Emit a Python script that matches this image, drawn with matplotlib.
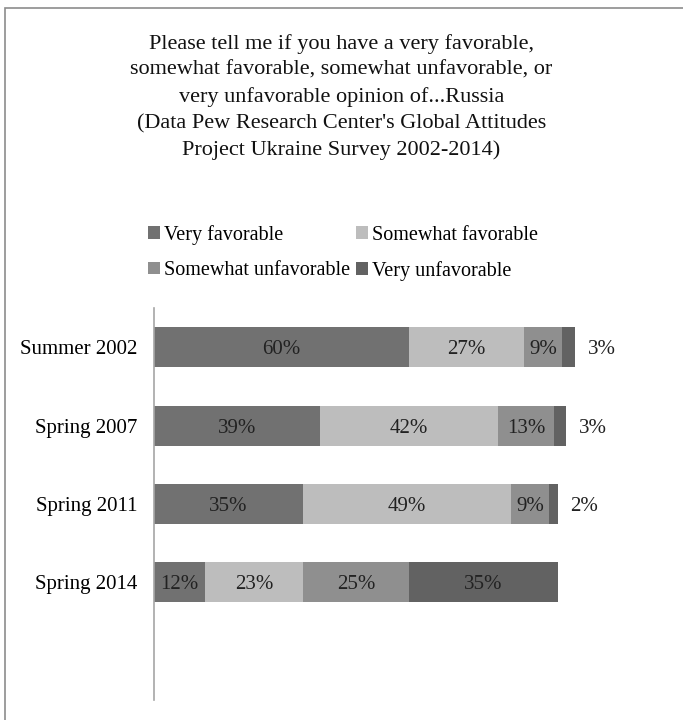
import numpy as np
import matplotlib
matplotlib.use("Agg")
from matplotlib import pyplot as plt
from matplotlib.patches import Rectangle

# survey waves and answer shares (%)
waves = ["Summer 2002", "Spring 2007", "Spring 2011", "Spring 2014"]
series = ["Very favorable", "Somewhat favorable", "Somewhat unfavorable", "Very unfavorable"]
very_fav = [60, 39, 35, 12]
some_fav = [27, 42, 49, 23]
some_unfav = [9, 13, 9, 25]
very_unfav = [3, 3, 2, 35]
colors = ["#717171", "#bdbdbd", "#8f8f8f", "#626262"]

plt.rcParams["font.family"] = ["Liberation Serif", "DejaVu Serif"]

fig = plt.figure(figsize=(6.83, 7.2), dpi=100)
ax = fig.add_axes([154 / 683, 1 - 700 / 720, 425 / 683, (700 - 308) / 720])

values = [very_fav, some_fav, some_unfav, very_unfav]
y = np.arange(len(waves))
left = np.zeros(len(waves))
handles = []
for k, (vals, name) in enumerate(zip(values, series)):
    bars = ax.barh(y, vals, left=left, height=0.51, color=colors[k], label=name)
    handles.append(bars)
    for i, v in enumerate(vals):
        if v < 5:
            # tiny segments get their label outside the bar
            ax.text(left[i] + v + 3, y[i], f"{v}%", ha="left", va="center_baseline",
                    fontsize=15, color="#222222")
        else:
            ax.text(left[i] + v / 2, y[i], f"{v}%", ha="center", va="center_baseline",
                    fontsize=15, color="#222222")
    left = left + np.array(vals)

ax.set_xlim(0, 100)
ax.set_ylim(4.5, -0.5)
ax.set_yticks(y)
ax.set_yticklabels(waves, fontsize=15)
ax.tick_params(axis="y", length=0, pad=12)
ax.set_xticks([])
for s in ["top", "right", "bottom"]:
    ax.spines[s].set_visible(False)
ax.spines["left"].set_color("#a6a6a6")
ax.spines["left"].set_linewidth(1.2)

title = ("Please tell me if you have a very favorable,\n"
         "somewhat favorable, somewhat unfavorable, or\n"
         "very unfavorable opinion of...Russia\n"
         "(Data Pew Research Center's Global Attitudes\n"
         "Project Ukraine Survey 2002-2014)")
fig.text(0.5, 1 - 97 / 720, title, ha="center", va="center", fontsize=16,
         linespacing=1.5, color="#111111")

# two-column legend, filled column by column
order = [0, 2, 1, 3]
fig.legend([handles[i] for i in order], [series[i] for i in order],
           loc="center left", bbox_to_anchor=(134 / 683, 1 - 253 / 720),
           ncol=2, frameon=False, fontsize=14.5, handlelength=0.6,
           handleheight=0.6, handletextpad=0.2, columnspacing=0.3,
           labelspacing=0.8, borderpad=0.2)

# outer border of the chart area
fig.patches.append(Rectangle((5 / 683, -0.1), 1.2, 1 - 8 / 720 + 0.1,
                             transform=fig.transFigure, fill=False,
                             edgecolor="#8c8c8c", linewidth=1.2))

fig.savefig("out.png", dpi=100)
